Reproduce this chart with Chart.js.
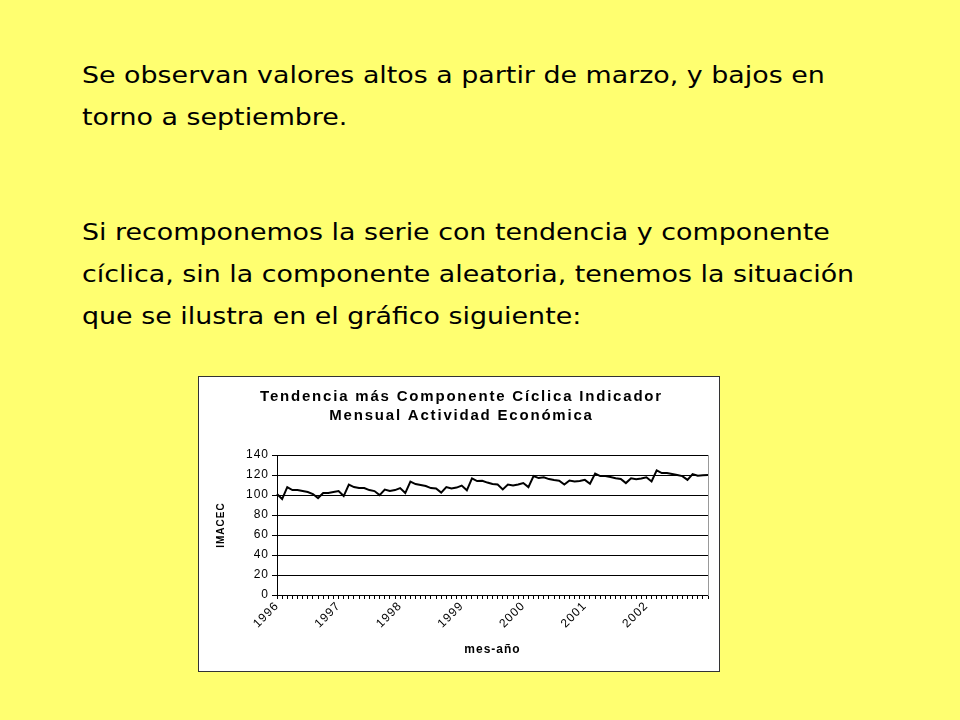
<!DOCTYPE html>
<html>
<head>
<meta charset="utf-8">
<script src="https://cdn.jsdelivr.net/npm/chart.js@4"></script>
<style>
  body { margin: 0; width: 960px; height: 720px; background: #ffff70; position: relative; overflow: hidden; }
  .txt { position: absolute; left: 82px; font-family: "DejaVu Sans", sans-serif; font-size: 23px; line-height: 42px; color: #000; white-space: nowrap; transform: scaleX(1.168); transform-origin: 0 0; }
  #box { position: absolute; left: 198px; top: 376px; width: 520px; height: 294px; background: #fff; border: 1px solid #333; }
</style>
</head>
<body>
<div class="txt" style="top:54px">Se observan valores altos a partir de marzo, y bajos en<br>torno a septiembre.</div>
<div class="txt" style="top:211px">Si recomponemos la serie con tendencia y componente<br>cíclica, sin la componente aleatoria, tenemos la situación<br>que se ilustra en el gráfico siguiente:</div>
<div id="box"><canvas id="myChart" width="520" height="294"></canvas></div>
<script>
// meses ene-1996 .. ene-2003
const years = ["1996", "1997", "1998", "1999", "2000", "2001", "2002", "2003"];
const imacec = [
  101, 96, 108, 105, 105, 104, 103, 101, 97, 102, 102, 103,
  104, 99, 110.5, 108, 107, 107, 105, 104, 100, 105.5, 104, 105,
  107, 102, 113.5, 111, 110, 109, 107, 106.5, 102.5, 108, 106.5, 107.5,
  109.5, 104.8, 116.8, 114, 114.3, 112.5, 111, 110.5, 105.7, 110.5, 109.5, 110.5,
  112, 108, 119, 117, 117.8, 116, 115, 114.3, 110.5, 114.6, 113.6, 114,
  115.2, 111.4, 121.6, 119, 119, 118, 116.8, 116.2, 112, 116.8, 115.9, 116.5,
  117.8, 113.6, 124.8, 122, 122, 121, 120, 119, 115.2, 121, 119.4, 119.8,
  120
];
const yTicks = [0, 20, 40, 60, 80, 100, 120, 140];

// etiqueta solo en enero
const labels = [];
for (let i = 0; i < imacec.length; i++) {
  labels.push(i % 12 == 0 && i < 84 ? years[i / 12] : "");
}

// texto espaciado como en Excel
const spacing = {
  id: "spacing",
  beforeUpdate: function (chart) { chart.ctx.letterSpacing = "1px"; },
  beforeDraw: function (chart) {
    chart.ctx.letterSpacing = "1px";
    const tb = chart.titleBlock;
    if (tb && !tb._wrapped) {
      const orig = tb.draw.bind(tb);
      tb.draw = function (area) {
        chart.ctx.letterSpacing = "1.8px";
        orig(area);
        chart.ctx.letterSpacing = "1px";
      };
      tb._wrapped = true;
    }
  }
};

const ctx = document.getElementById("myChart");
new Chart(ctx, {
  type: "line",
  data: {
    labels: labels,
    datasets: [{
      data: imacec,
      borderColor: "#000",
      borderWidth: 2,
      pointRadius: 0,
      tension: 0,
      yAxisID: "y"
    }]
  },
  plugins: [spacing],
  options: {
    responsive: false,
    animation: false,
    devicePixelRatio: 1,
    layout: { padding: { left: 16, right: 11, top: 0, bottom: 14 } },
    plugins: {
      legend: { display: false },
      tooltip: { enabled: false },
      title: {
        display: true,
        text: ["Tendencia más Componente Cíclica Indicador", "Mensual Actividad Económica"],
        color: "#000",
        font: { family: "Liberation Sans, Arial", size: 15, weight: "bold", lineHeight: 1.27 },
        padding: { top: 10.5, bottom: 29.5 }
      }
    },
    scales: {
      x: {
        offset: false,
        afterFit: function (s) { s.height = 62; },
        grid: { drawOnChartArea: false, drawTicks: true, tickLength: 4, color: "#000" },
        border: { color: "#000" },
        ticks: {
          autoSkip: false, maxRotation: 45, minRotation: 45, color: "#000", padding: 0,
          font: { family: "Liberation Sans, Arial", size: 12 }
        },
        title: {
          display: true, text: "mes-año", color: "#000",
          font: { family: "Liberation Sans, Arial", size: 12, weight: "bold" },
          padding: { top: 0, bottom: 0 }
        }
      },
      y: {
        min: 0, max: 140,
        afterFit: function (s) { s.width = 62; },
        afterBuildTicks: function (s) { s.ticks = yTicks.map(v => ({ value: v })); },
        grid: { color: "#000", tickLength: 5 },
        border: { color: "#000" },
        ticks: { color: "#000", padding: 3, font: { family: "Liberation Sans, Arial", size: 12 } },
        title: {
          display: true, text: "IMACEC", color: "#000",
          font: { family: "Liberation Sans, Arial", size: 10, weight: "bold" },
          padding: { top: 0, bottom: 0 }
        }
      },
      y2: {
        position: "right", min: 0, max: 140,
        afterFit: function (s) { s.width = 0; },
        grid: { drawOnChartArea: false, drawTicks: false },
        border: { color: "#999" },
        ticks: { display: false }
      }
    }
  }
});
</script>
</body>
</html>
